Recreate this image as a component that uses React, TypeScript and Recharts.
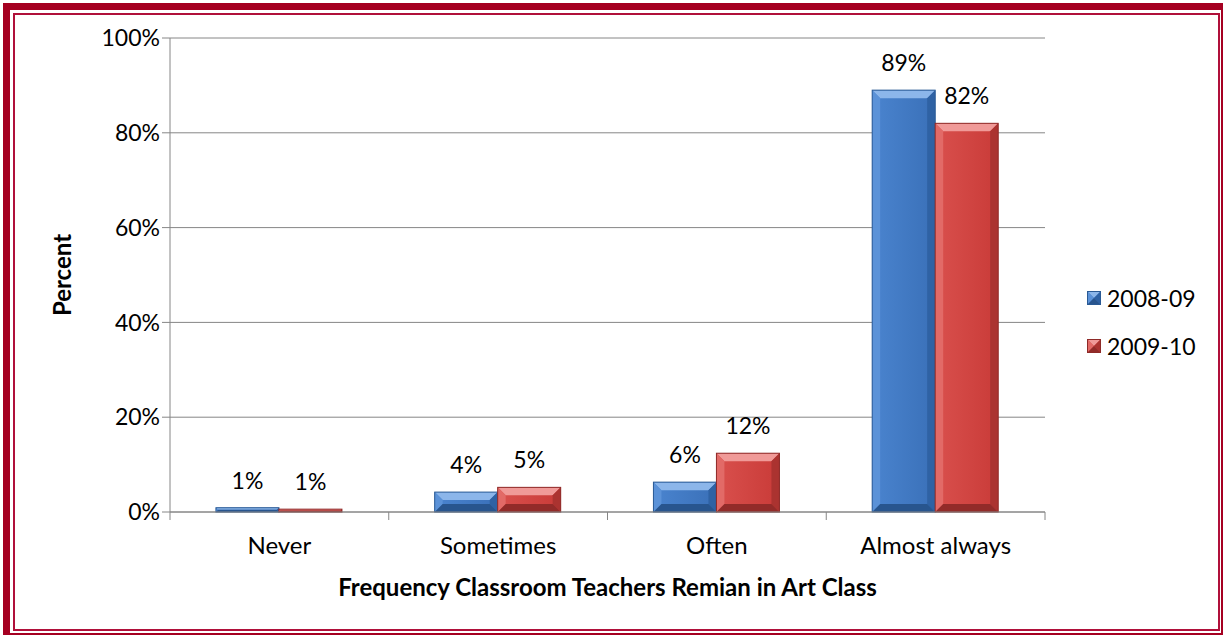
import { BarChart, Bar, XAxis, YAxis, CartesianGrid, Legend, LabelList } from 'recharts'

const categories = ['Never', 'Sometimes', 'Often', 'Almost always']
const series0809 = [0.9, 4.2, 6.3, 89]
const series0910 = [0.6, 5.2, 12.4, 82]
const yTicks = [0, 20, 40, 60, 80, 100]

const data = categories.map((name, i) => ({
   name,
   y0809: series0809[i],
   y0910: series0910[i]
}))

const FONT = 'Lato, "Open Sans", sans-serif'

const palette: Record<string, { face: string; faceTop: string; light: string; lighter: string; dark: string; darker: string; edge: string }> = {
   blue: { face: '#3a70b8', faceTop: '#4a84cf', light: '#5b92d8', lighter: '#8cb6ea', dark: '#2f62a4', darker: '#28558e', edge: '#2a5a95' },
   red: { face: '#c93b38', faceTop: '#d9504d', light: '#e26a67', lighter: '#f09a98', dark: '#ab3330', darker: '#922b29', edge: '#8e2a28' }
}

const BevelBar = (props: any) => {
   const { x, y, width, height, tone } = props
   if (!height || height <= 0) return null
   const c = palette[tone]
   const b = Math.min(8, width / 2, height / 2)
   const x2 = x + width
   const y2 = y + height
   const gid = `face-${tone}`
   return (
      <g>
         <defs>
            <linearGradient id={gid} x1="0" y1="0" x2="1" y2="0">
               <stop offset="0%" stopColor={c.faceTop} />
               <stop offset="100%" stopColor={c.face} />
            </linearGradient>
         </defs>
         <rect x={x} y={y} width={width} height={height} fill={`url(#${gid})`} />
         <polygon points={`${x},${y} ${x2},${y} ${x2 - b},${y + b} ${x + b},${y + b}`} fill={c.lighter} />
         <polygon points={`${x},${y} ${x + b},${y + b} ${x + b},${y2 - b} ${x},${y2}`} fill={c.light} />
         <polygon points={`${x2},${y} ${x2},${y2} ${x2 - b},${y2 - b} ${x2 - b},${y + b}`} fill={c.dark} />
         <polygon points={`${x},${y2} ${x + b},${y2 - b} ${x2 - b},${y2 - b} ${x2},${y2}`} fill={c.darker} />
         <rect x={x} y={y} width={width} height={height} fill="none" stroke={c.edge} strokeWidth={1} />
      </g>
   )
}

const CategoryTick = (props: any) => {
   const { x, y, payload, index } = props
   const half = payload.offset || 0
   return (
      <g>
         <line x1={x - half} y1={y - 8} x2={x - half} y2={y} stroke="#868686" />
         {index === categories.length - 1 && (
            <line x1={x + half} y1={y - 8} x2={x + half} y2={y} stroke="#868686" />
         )}
         <text x={x} y={y + 34} textAnchor="middle" fontSize={24} fill="#000" fontFamily={FONT}>
            {payload.value}
         </text>
      </g>
   )
}

const LegendContent = () => {
   const items = [
      { label: '2008-09', tone: 'blue' },
      { label: '2009-10', tone: 'red' }
   ]
   return (
      <div style={{ fontFamily: FONT, fontSize: 23 }}>
         {items.map((it) => (
            <div key={it.label} style={{ display: 'flex', alignItems: 'center', height: 48 }}>
               <svg width={14} height={14} style={{ marginRight: 6, marginLeft: 2 }}>
                  <BevelBar x={0.5} y={0.5} width={13} height={13} tone={it.tone} />
               </svg>
               <span>{it.label}</span>
            </div>
         ))}
      </div>
   )
}

export default function App() {
   return (
      <div style={{ position: 'fixed', left: 0, top: 0, width: 1223, height: 635, background: '#fff', overflow: 'hidden' }}>
         <div style={{ position: 'absolute', left: 3, top: 3, width: 1225, height: 637, border: '7px solid #a50021', boxSizing: 'border-box' }} />
         <div style={{ position: 'absolute', left: 13, top: 13, width: 1207, height: 618, border: '2px solid #b0103a', boxSizing: 'border-box' }} />
         <div style={{ position: 'absolute', left: 0, top: 0 }}>
            <BarChart
               width={1223}
               height={635}
               data={data}
               margin={{ top: 38, right: 48, bottom: 33, left: 45 }}
               barCategoryGap="21%"
               barGap={0}
            >
               <CartesianGrid vertical={false} stroke="#868686" />
               <XAxis
                  dataKey="name"
                  height={90}
                  axisLine={{ stroke: '#868686' }}
                  tickLine={false}
                  tick={<CategoryTick />}
                  label={{ value: 'Frequency Classroom Teachers Remian in Art Class', position: 'insideBottom', offset: 6, fontSize: 24, fontWeight: 'bold', fill: '#000', fontFamily: FONT }}
               />
               <YAxis
                  width={125}
                  domain={[0, 100]}
                  ticks={yTicks}
                  tickFormatter={(v: number) => `${v}%`}
                  axisLine={{ stroke: '#868686' }}
                  tickLine={{ stroke: '#868686' }}
                  tickSize={8}
                  tick={{ fontSize: 23, fill: '#000', fontFamily: FONT }}
                  label={{ value: 'Percent', angle: -90, position: 'insideLeft', offset: 17, fontSize: 24, fontWeight: 'bold', fill: '#000', fontFamily: FONT, style: { textAnchor: 'middle' } }}
               />
               <Legend
                  layout="vertical"
                  align="right"
                  verticalAlign="middle"
                  content={<LegendContent />}
                  wrapperStyle={{ left: 1085, top: 274, width: 130 }}
               />
               <Bar dataKey="y0809" name="2008-09" shape={<BevelBar tone="blue" />} isAnimationActive={false}>
                  <LabelList dataKey="y0809" position="top" offset={19} formatter={(v: any) => `${Math.round(v)}%`} style={{ fontSize: 23, fill: '#000', fontFamily: FONT }} />
               </Bar>
               <Bar dataKey="y0910" name="2009-10" shape={<BevelBar tone="red" />} isAnimationActive={false}>
                  <LabelList dataKey="y0910" position="top" offset={19} formatter={(v: any) => `${Math.round(v)}%`} style={{ fontSize: 23, fill: '#000', fontFamily: FONT }} />
               </Bar>
            </BarChart>
         </div>
      </div>
   )
}
